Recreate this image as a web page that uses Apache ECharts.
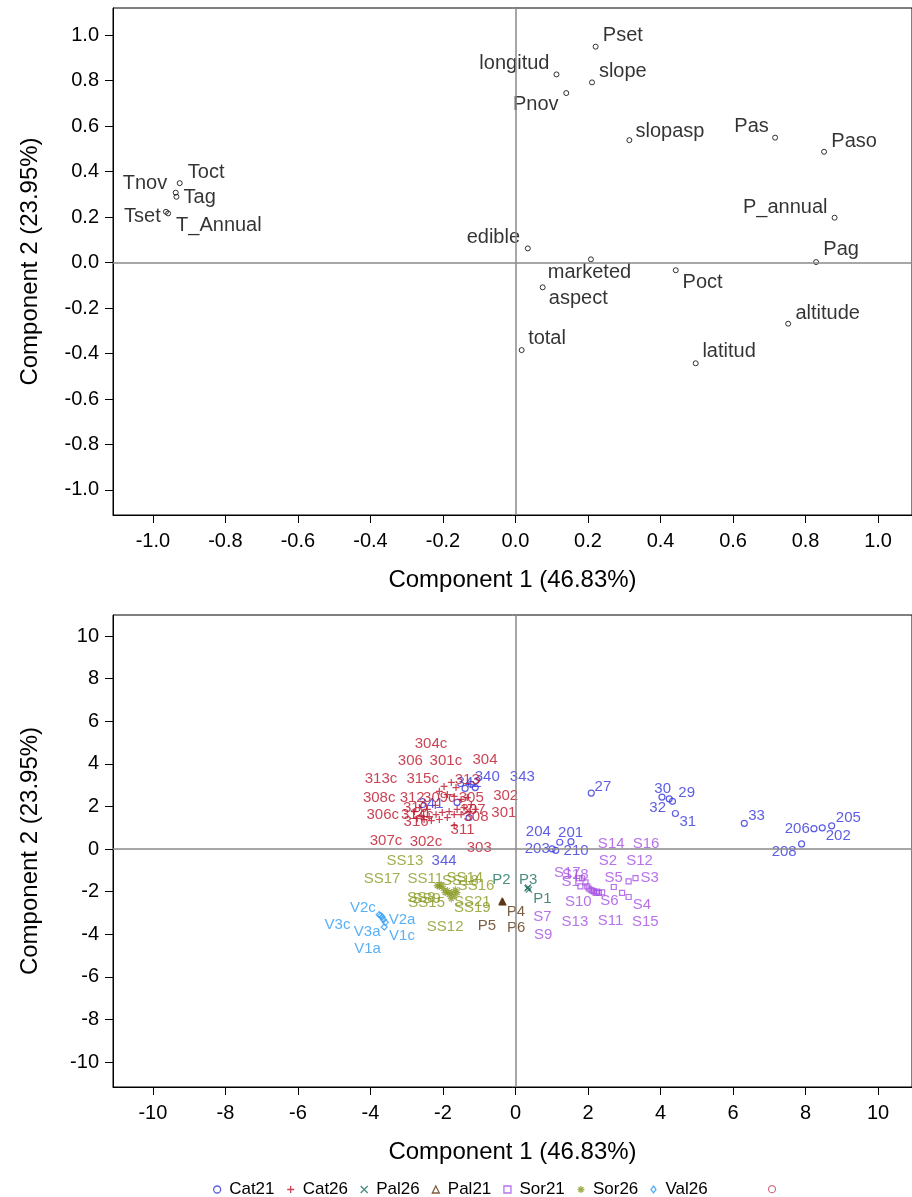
<!DOCTYPE html>
<html><head><meta charset="utf-8">
<script src="https://cdn.jsdelivr.net/npm/echarts@6/dist/echarts.min.js"></script>
<style>html,body{margin:0;padding:0;background:#fff}#c{width:912px;height:1197px}</style>
</head><body><div id="c"></div>
<script>
// ---------- Top panel: variable loadings ----------
const varNames = ['Pset','longitud','slope','Pnov','slopasp','Pas','Paso','P_annual','Pag','edible','marketed','aspect','Poct','total','latitud','altitude','Toct','Tnov','Tag','Tset','T_Annual'];
const varPC1 = [0.221,0.113,0.211,0.140,0.314,0.716,0.851,0.880,0.829,0.034,0.208,0.075,0.442,0.017,0.497,0.752,-0.926,-0.937,-0.935,-0.964,-0.958];
const varPC2 = [0.949,0.827,0.792,0.745,0.538,0.549,0.487,0.197,0.002,0.062,0.014,-0.109,-0.034,-0.385,-0.443,-0.269,0.349,0.307,0.289,0.223,0.216];
const varLabelX = [0.296,-0.003,0.296,0.056,0.426,0.651,0.934,0.744,0.898,-0.061,0.204,0.173,0.516,0.087,0.589,0.861,-0.853,-1.022,-0.871,-1.029,-0.818];
const varLabelY = [1.000,0.877,0.842,0.697,0.578,0.596,0.534,0.244,0.059,0.112,-0.042,-0.160,-0.086,-0.336,-0.393,-0.222,0.398,0.349,0.288,0.204,0.165];
const topTicks = [-1.0,-0.8,-0.6,-0.4,-0.2,0.0,0.2,0.4,0.6,0.8,1.0];

// ---------- Bottom panel: sample scores ----------
const cat21PC1 = [2.09,4.04,4.24,4.33,4.41,6.31,8.23,8.46,8.72,7.89,1.53,1.22,1.01,1.11,-1.39,-1.22,-1.11,-1.61,-1.28];
const cat21PC2 = [2.63,2.44,2.36,2.24,1.67,1.21,0.96,1.00,1.09,0.24,0.35,0.32,0.01,-0.06,2.85,3.04,2.89,2.19,1.48];
const cat21Names = ['27','30','32','29','31','33','206','202','205','208','201','204','203','210','342','340','343','341','344'];
const cat21LabelX = [2.41,4.06,3.92,4.72,4.75,6.65,7.77,8.90,9.18,7.41,1.52,0.63,0.60,1.67,-1.28,-0.78,0.19,-2.33,-1.97];
const cat21LabelY = [2.94,2.85,1.95,2.66,1.29,1.58,0.96,0.60,1.47,-0.15,0.76,0.79,0.01,-0.10,3.12,3.38,3.38,2.14,-0.57];

const cat26PC1 = [-1.97,-1.77,-1.64,-2.10,-1.88,-1.69,-1.50,-1.33,-1.22,-1.42,-1.61,-1.83,-2.02,-2.19,-2.38,-2.60,-2.71,-2.52,-2.32,-2.10,-1.88,-1.69,-1.50,-1.28,-1.11,-1.69,-2.21,-2.43,-2.79,-2.65];
const cat26PC2 = [2.94,3.13,2.89,2.71,2.56,2.47,2.33,2.42,2.09,1.95,1.86,1.76,1.72,1.62,1.53,1.58,1.44,1.39,1.34,1.39,1.48,1.62,1.62,1.76,1.86,1.11,2.05,1.86,1.76,1.95];
const cat26Names = ['304c','306','301c','304','313c','315c','313','308c','312','309c','305','302','306c','310','314c','316','307','308','301','311','307c','302c','303'];
const cat26LabelX = [-2.33,-2.90,-1.92,-0.84,-3.71,-2.56,-1.33,-3.76,-2.85,-2.10,-1.22,-0.27,-3.66,-2.76,-2.71,-2.74,-1.17,-1.09,-0.32,-1.46,-3.57,-2.47,-1.00];
const cat26LabelY = [4.96,4.16,4.16,4.21,3.30,3.30,3.27,2.41,2.42,2.42,2.42,2.52,1.62,1.95,1.62,1.29,1.86,1.53,1.70,0.92,0.37,0.32,0.06];

const pal26PC1 = [0.33,0.37,0.35];
const pal26PC2 = [-1.84,-1.90,-1.80];
const pal26Names = ['P2','P3','P1'];
const pal26LabelX = [-0.39,0.35,0.74];
const pal26LabelY = [-1.44,-1.44,-2.34];

const pal21PC1 = [-0.36,-0.37,-0.35];
const pal21PC2 = [-2.46,-2.44,-2.47];
const pal21Names = ['P4','P5','P6'];
const pal21LabelX = [0.01,-0.79,0.02];
const pal21LabelY = [-2.93,-3.60,-3.71];

const sor21PC1 = [1.75,1.84,1.93,1.79,1.98,2.07,2.16,2.21,2.30,2.39,2.02,2.12,2.25,2.71,2.94,3.12,3.12,3.31];
const sor21PC2 = [-1.37,-1.37,-1.56,-1.75,-1.75,-1.91,-1.99,-2.06,-2.06,-2.03,-1.85,-1.95,-2.00,-1.78,-2.06,-2.25,-1.52,-1.36];
const sor21Names = ['S14','S16','S2','S12','S17','S18','S1','S5','S3','S10','S6','S4','S7','S13','S11','S15','S9'];
const sor21LabelX = [2.64,3.60,2.55,3.42,1.43,1.65,1.52,2.71,3.70,1.73,2.59,3.49,0.74,1.64,2.62,3.58,0.76];
const sor21LabelY = [0.26,0.26,-0.57,-0.57,-1.12,-1.20,-1.55,-1.36,-1.36,-2.50,-2.41,-2.64,-3.19,-3.40,-3.35,-3.44,-4.02];

const sor26PC1 = [-2.16,-2.10,-2.05,-1.99,-1.94,-1.88,-1.83,-1.77,-1.69,-1.66,-1.61,-1.77];
const sor26PC2 = [-1.72,-1.76,-1.68,-1.85,-2.04,-1.95,-2.14,-2.04,-2.19,-1.91,-2.04,-2.33];
const sor26Names = ['SS13','SS17','SS11','SS14','SS18','SS16','SS8','SS9','SS15','SS21','SS19','SS12'];
const sor26LabelX = [-3.05,-3.68,-2.49,-1.40,-1.52,-1.09,-2.60,-2.45,-2.45,-1.19,-1.19,-1.94];
const sor26LabelY = [-0.57,-1.40,-1.40,-1.36,-1.47,-1.72,-2.28,-2.33,-2.52,-2.46,-2.77,-3.63];

const val26PC1 = [-3.76,-3.68,-3.64,-3.59,-3.62,-3.72];
const val26PC2 = [-3.08,-3.19,-3.32,-3.44,-3.66,-3.12];
const val26Names = ['V2c','V2a','V3a','V1c','V1a','V3c'];
const val26LabelX = [-4.21,-3.13,-4.09,-3.13,-4.08,-4.91];
const val26LabelY = [-2.77,-3.32,-3.87,-4.07,-4.70,-3.55];

const bottomTicks = [-10,-8,-6,-4,-2,0,2,4,6,8,10];
const groupOrder = ['Cat21','Cat26','Pal26','Pal21','Sor21','Sor26','Val26'];

// ---------- styling ----------
const FONT = "'Liberation Sans', Arial, sans-serif";
const colors = {Cat21:'#3434dc', Cat26:'#bd1429', Pal26:'#1e6e60', Pal21:'#5c3512', Sor21:'#a54fe2', Sor26:'#8a9a22', Val26:'#2f9bf2', Other:'#c8506a'};
const symbols = {
  Cat21:'circle',
  Cat26:'path://M5,0L5,10M0,5L10,5',
  Pal26:'path://M0,0L10,10M10,0L0,10',
  Pal21:'triangle',
  Sor21:'rect',
  Sor26:'path://M5,0L5,10M0,5L10,5M1.5,1.5L8.5,8.5M8.5,1.5L1.5,8.5',
  Val26:'diamond',
  Other:'circle'
};
const legendIcons = Object.assign({}, symbols, {Pal21:'path://M5,0L10,10L0,10Z', Sor21:'path://M0,0L10,0L10,10L0,10Z', Val26:'path://M5,0L10,7L5,14L0,7Z'});
const symbolSizes = {Cat21:6, Cat26:7, Pal26:6, Pal21:7, Sor21:5, Sor26:7, Val26:6, Other:6};
const hollow = {Cat21:true, Cat26:true, Pal26:true, Pal21:false, Sor21:true, Sor26:true, Val26:true, Other:true};

const groups = {
  Cat21:[cat21PC1,cat21PC2,cat21Names,cat21LabelX,cat21LabelY],
  Cat26:[cat26PC1,cat26PC2,cat26Names,cat26LabelX,cat26LabelY],
  Pal26:[pal26PC1,pal26PC2,pal26Names,pal26LabelX,pal26LabelY],
  Pal21:[pal21PC1,pal21PC2,pal21Names,pal21LabelX,pal21LabelY],
  Sor21:[sor21PC1,sor21PC2,sor21Names,sor21LabelX,sor21LabelY],
  Sor26:[sor26PC1,sor26PC2,sor26Names,sor26LabelX,sor26LabelY],
  Val26:[val26PC1,val26PC2,val26Names,val26LabelX,val26LabelY]
};

const pairs = (xs, ys) => xs.map((v,i) => [v, ys[i]]);
const named = (ns, xs, ys) => ns.map((n,i) => ({name:n, value:[xs[i], ys[i]]}));

const zeroLine = {
  silent:true, symbol:['none','none'], animation:false,
  label:{show:false},
  lineStyle:{color:'#8a8a8a', width:1.5, type:'solid'},
  emphasis:{disabled:true},
  data:[{xAxis:0},{yAxis:0}]
};

function axisCommon(ticks, fmt) {
  return {
    type:'value', splitLine:{show:false},
    axisLine:{show:true, onZero:false, lineStyle:{color:'#000', width:1}},
    axisTick:{show:true, length:8, inside:false, customValues:ticks, lineStyle:{color:'#000', width:1}},
    axisLabel:{customValues:ticks, formatter:fmt, fontSize:20, color:'#000', fontFamily:FONT},
    nameLocation:'middle',
    nameTextStyle:{fontSize:24, color:'#000', fontFamily:FONT}
  };
}
const f1 = v => (Math.abs(v) < 1e-9 ? 0 : v).toFixed(1);
const f0 = v => String(Math.round(v));

const xTop = Object.assign(axisCommon(topTicks, f1), {gridIndex:0, min:-1.11, max:1.0935, name:'Component 1 (46.83%)', nameGap:53});
xTop.axisLabel.margin = 16;
const yTop = Object.assign(axisCommon(topTicks, f1), {gridIndex:0, min:-1.11, max:1.119, name:'Component 2 (23.95%)', nameGap:71});
yTop.axisLabel.margin = 14;
const xBot = Object.assign(axisCommon(bottomTicks, f0), {gridIndex:1, min:-11.1, max:10.935, name:'Component 1 (46.83%)', nameGap:53});
xBot.axisLabel.margin = 16;
const yBot = Object.assign(axisCommon(bottomTicks, f0), {gridIndex:1, min:-11.17, max:10.99, name:'Component 2 (23.95%)', nameGap:71});
yBot.axisLabel.margin = 14;

const series = [];
// top panel
series.push({
  type:'scatter', name:'variables', xAxisIndex:0, yAxisIndex:0,
  data:pairs(varPC1, varPC2), symbol:'circle', symbolSize:5,
  itemStyle:{color:'rgba(0,0,0,0)', borderColor:'#000', borderWidth:1},
  markLine:zeroLine, z:3
});
series.push({
  type:'scatter', name:'variable labels', xAxisIndex:0, yAxisIndex:0,
  data:named(varNames, varLabelX, varLabelY), symbolSize:0,
  label:{show:true, position:'inside', formatter:'{b}', fontSize:20, color:'#000', fontFamily:FONT, align:'center', verticalAlign:'middle'},
  z:4
});
// bottom panel
series.push({
  type:'scatter', name:'zero', xAxisIndex:1, yAxisIndex:1, data:[], markLine:zeroLine, z:1
});
groupOrder.forEach(g => {
  const [px, py, ns, lx, ly] = groups[g];
  series.push({
    type:'scatter', name:g, xAxisIndex:1, yAxisIndex:1,
    data:pairs(px, py), symbol:symbols[g], symbolSize:symbolSizes[g], symbolKeepAspect:true,
    itemStyle: hollow[g] ? {color:'rgba(0,0,0,0)', borderColor:colors[g], borderWidth:1.2}
                         : {color:colors[g], borderColor:colors[g], borderWidth:0.5},
    z:3
  });
  series.push({
    type:'scatter', name:g + ' labels', xAxisIndex:1, yAxisIndex:1,
    data:named(ns, lx, ly), symbolSize:0,
    label:{show:true, position:'inside', formatter:'{b}', fontSize:15, color:colors[g], fontFamily:FONT, align:'center', verticalAlign:'middle'},
    z:4
  });
});
series.push({
  type:'scatter', name:'Other', xAxisIndex:1, yAxisIndex:1, data:[], symbolKeepAspect:true,
  symbol:'circle', itemStyle:{color:'rgba(0,0,0,0)', borderColor:colors.Other, borderWidth:1.2}
});

const legendItem = g => ({
  name:g, icon:legendIcons[g],
  itemStyle:{color:'rgba(0,0,0,0)', borderColor:colors[g], borderWidth:1.3}
});

const option = {
  animation:false,
  backgroundColor:'#fff',
  textStyle:{fontFamily:FONT},
  grid:[
    {left:113, top:8, width:801, height:507, show:true, borderColor:'#000', borderWidth:1, backgroundColor:'rgba(0,0,0,0)'},
    {left:113, top:615, width:801, height:472, show:true, borderColor:'#000', borderWidth:1, backgroundColor:'rgba(0,0,0,0)'}
  ],
  xAxis:[xTop, xBot],
  yAxis:[yTop, yBot],
  legend:[
    {left:208, top:1176, orient:'horizontal', itemWidth:14, itemHeight:7, itemGap:12, selectedMode:false,
     textStyle:{fontSize:17, color:'#000', fontFamily:FONT},
     data:groupOrder.map(legendItem)},
    {left:760, top:1180, orient:'horizontal', itemWidth:14, itemHeight:7, selectedMode:false,
     formatter:() => '', textStyle:{fontSize:17, color:'#000', fontFamily:FONT},
     data:[legendItem('Other')]}
  ],
  series:series
};

const chart = echarts.init(document.getElementById('c'), null, {renderer:'canvas'});
chart.setOption(option);
</script>
</body></html>
